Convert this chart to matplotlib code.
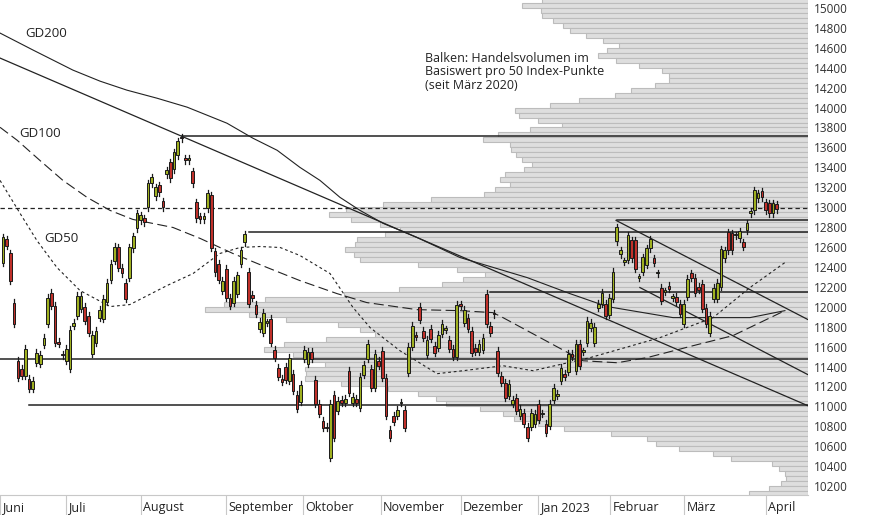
import matplotlib
matplotlib.use("Agg")
import matplotlib.pyplot as plt
import matplotlib.transforms as mtransforms
import numpy as np

plt.rcParams['font.family'] = ['Open Sans', 'DejaVu Sans']

# daily candles (open, close), June 2022 - April 2023
opens = [12444, 12676, 12535, 12042, 11458, 11378, 11308, 11277, 11177, 11438,
         11428, 11619, 11831, 12143, 12012, 11650, 11525, 11458, 11378, 11811,
         11911, 11982, 12002, 11911, 11529, 11639, 11891, 11881, 12052, 12273,
         12464, 12595, 12394, 12243, 12293, 12585, 12786, 12867, 12887, 13000,
         13239, 13108, 13219, 13058, 13330, 13450, 13380, 13521, 13700, 13490,
         13470, 13360, 13048, 12907, 12877, 12988, 13118, 12555, 12434, 12163,
         12384, 12092, 12042, 12132, 12434, 12646, 12354, 12122, 12022, 11780,
         11740, 11841, 11881, 11569, 11388, 11277, 11398, 11257, 11328, 11116,
         11046, 11478, 11428, 11549, 11267, 11026, 10855, 10794, 10483, 11116,
         10955, 11066, 11036, 11358, 11036, 11076, 10986, 11318, 11478, 11378,
         11187, 11458, 11559, 11287, 10764, 10905, 10905, 11036, 10965, 11338,
         11599, 11710, 12002, 11760, 11519, 11780, 11609, 11589, 11730, 11770,
         11670, 11579, 11499, 12022, 11841, 11891, 11760, 11589, 11549, 11569,
         12132, 11811, 11931, 11559, 11308, 11237, 11106, 11026, 11086, 10905,
         10935, 10794, 10794, 10825, 11026, 10925, 10825, 10805, 11066, 11106,
         11257, 11328, 11348, 11529, 11358, 11629, 11549, 11639, 11790, 11639,
         11992, 12032, 12032, 11921, 12082, 12656, 12525, 12454, 12474, 12666,
         12666, 12293, 12354, 12424, 12585, 12485, 12334, 12193, 12153, 12213,
         12092, 12102, 12032, 11831, 12102, 12334, 12293, 12203, 12233, 11992,
         11740, 12082, 12082, 12203, 12485, 12746, 12736, 12716, 12686, 12646,
         12766, 12937, 12967, 13088, 13158, 13048, 13038, 12937, 13028]
closes = [12696, 12615, 12263, 11831, 11287, 11308, 11579, 11177, 11257, 11539,
          11519, 11690, 12092, 12012, 11639, 11630, 11515, 11579, 11770, 11841,
          12112, 12112, 11861, 11740, 11720, 11760, 11971, 12082, 12243, 12434,
          12605, 12394, 12334, 12082, 12595, 12706, 12937, 12917, 12847, 13239,
          13299, 13199, 13148, 13000, 13370, 13289, 13551, 13662, 13690, 13470,
          13490, 13239, 12887, 12877, 12907, 13138, 12595, 12344, 12273, 12263,
          12092, 12012, 12263, 12314, 12565, 12726, 12032, 12092, 11931, 11851,
          11941, 11841, 11639, 11489, 11298, 11247, 11267, 11489, 11157, 10976,
          11217, 11569, 11549, 11478, 11026, 10925, 10784, 10784, 11026, 10684,
          11056, 11036, 11076, 11137, 11096, 11036, 11298, 11418, 11629, 11187,
          11529, 11408, 11287, 10905, 10684, 10845, 10965, 11040, 10784, 11599,
          11811, 11700, 11871, 11690, 11670, 11680, 11539, 11720, 11831, 11770,
          11579, 11499, 12022, 12012, 11971, 11780, 11539, 11549, 11629, 11690,
          11831, 11740, 11925, 11338, 11237, 11086, 11227, 11066, 10955, 10976,
          10825, 10684, 10935, 10925, 10865, 10925, 10734, 11026, 11187, 11126,
          11388, 11298, 11529, 11499, 11629, 11408, 11549, 11861, 11841, 11800,
          12032, 12143, 11911, 12092, 12354, 12796, 12565, 12454, 12716, 12485,
          12384, 12293, 12495, 12585, 12676, 12444, 12334, 12062, 12153, 12183,
          12092, 12052, 11931, 12032, 12283, 12293, 12143, 12173, 11982, 11831,
          11911, 12193, 12243, 12575, 12565, 12565, 12565, 12716, 12756, 12605,
          12837, 12957, 13168, 13138, 13098, 12967, 12937, 13038, 12977]

# month separators (candle index) and labels
month_pos = [-0.8, 16.9, 37.1, 59.9, 80.6, 101.6, 123.1, 143.8, 163.2, 183.1, 205.1]
month_labels = ['Juni', 'Juli', 'August', 'September', 'Oktober', 'November',
                'Dezember', 'Jan 2023', 'Februar', 'März', 'April']

# moving averages: (candle index, value)
gd200_i = [-0.8, 8.1, 18.8, 26.1, 33.3, 41.4, 49.5, 60.2, 67.2, 73.7, 79.8, 85.2,
           90.6, 96.0, 102.2, 111.3, 122.8, 140.9, 152.4, 162.4, 180.1, 200.8, 210.2]
gd200_v = [14748, 14577, 14376, 14265, 14175, 14094, 14004, 13843, 13692, 13571,
           13400, 13269, 13098, 12967, 12837, 12696, 12495, 12293, 12132, 12002,
           11891, 11891, 11961]
gd100_i = [-0.8, 3.8, 9.9, 16.1, 22.6, 28.8, 34.9, 45.7, 53.0, 61.8, 71.0, 79.8,
           89.8, 97.8, 111.3, 122.8, 131.7, 134.4, 155.9, 165.1, 173.1, 185.5,
           196.2, 210.2]
gd100_v = [13802, 13672, 13470, 13269, 13098, 12967, 12877, 12796, 12686, 12535,
           12394, 12263, 12132, 12042, 11971, 11961, 11941, 11891, 11458, 11438,
           11489, 11609, 11710, 11961]
gd50_i = [-0.8, 4.6, 9.1, 14.5, 20.7, 28.8, 34.1, 44.1, 51.1, 58.3, 63.7, 69.1,
          74.5, 79.8, 87.9, 94.1, 98.7, 106.7, 116.7, 123.7, 134.4, 142.5, 157.8,
          176.6, 190.9, 200.8, 210.2]
gd50_v = [13269, 12937, 12666, 12394, 12163, 12002, 12022, 12213, 12334, 12535,
          12595, 12605, 12595, 12515, 12334, 11992, 11790, 11559, 11328, 11358,
          11408, 11358, 11489, 11690, 11891, 12193, 12444]

# horizontal levels: start index, value
level_start = [48, 66, 165, 131, -0.8, 7]
level_value = [13710, 12746, 12867, 12152, 11478, 11016]
dashed_level = 12990

# trend lines: (i0, v0, i1, v1)
trend_lines = [(-0.8, 14497, 216.4, 11006),
               (164.8, 12867, 216.4, 11871),
               (171.2, 12193, 216.4, 11318)]

# volume profile per 50 index points (relative volume)
profile_levels = list(range(15075, 10100, -50))
profile_vol = [266, 286, 267, 266, 255, 245, 238, 222, 205, 189,
               201, 210, 192, 169, 146, 139, 139, 153, 177, 193,
               229, 258, 293, 289, 270, 246, 278, 310, 325, 298,
               297, 292, 286, 276, 284, 303, 308, 298, 313, 324,
               377, 425, 462, 479, 457, 428, 408, 423, 451, 453,
               463, 454, 448, 390, 351, 323, 345, 366, 409, 464,
               543, 584, 603, 559, 522, 470, 448, 433,
               482, 524, 544, 515, 504, 483, 503, 502, 503, 467,
               420, 390, 372, 362, 328, 305, 294, 270, 244, 197,
               161, 152, 129, 95, 77, 36, 29, 23, 22, 27, 39, 59]

W, H = 874, 515
fig = plt.figure(figsize=(W / 100, H / 100), dpi=100)
rect = [0, 20 / H, 808 / W, 1 - 20 / H]
YMIN, YMAX = 10110, 15080

# background: volume profile
axb = fig.add_axes(rect)
axb.barh(profile_levels, profile_vol, height=50, left=0, color='#dedede',
         edgecolor='#bcbcbc', linewidth=0.8)
axb.set_xlim(808, 0)
axb.set_ylim(YMIN, YMAX)
axb.axis('off')

ax = fig.add_axes(rect)
ax.patch.set_alpha(0)
XMIN, XMAX = -0.806, 216.4
ax.set_xlim(XMIN, XMAX)
ax.set_ylim(YMIN, YMAX)

lc = '#222222'
ax.plot(gd200_i, gd200_v, color=lc, lw=0.8)
ax.plot(gd100_i, gd100_v, color=lc, lw=0.8, dashes=(9, 4))
ax.plot(gd50_i, gd50_v, color=lc, lw=0.8, dashes=(2.5, 2.5))
for i0, v0, i1, v1 in trend_lines:
    ax.plot([i0, i1], [v0, v1], color=lc, lw=0.9)
for s, v in zip(level_start, level_value):
    ax.plot([s, XMAX], [v, v], color=lc, lw=1.1)
ax.axhline(dashed_level, color=lc, lw=0.9, dashes=(3.5, 2.5))

# candles
for i, (o, c) in enumerate(zip(opens, closes)):
    hi = max(o, c) + 35
    lo = min(o, c) - 35
    ax.plot([i, i], [lo, hi], color='#1a1a1a', lw=0.9, zorder=3)
    col = '#9fb020' if c >= o else '#c0302a'
    bot = min(o, c)
    h = max(abs(c - o), 12)
    ax.add_patch(plt.Rectangle((i - 0.36, bot), 0.72, h, facecolor=col,
                               edgecolor='#1a1a1a', lw=0.7, zorder=4))

# labels
ax.text(6.0, 14740, 'GD200', fontsize=9.5, color='#222', va='center')
ax.text(4.3, 13740, 'GD100', fontsize=9.5, color='#222', va='center')
ax.text(11.0, 12690, 'GD50', fontsize=9.5, color='#222', va='center')
ax.text(113.5, 14560, 'Balken: Handelsvolumen im\nBasiswert pro 50 Index-Punkte\n(seit März 2020)',
        fontsize=9, color='#222', va='top', linespacing=1.05)

# axes styling
for s in ['top', 'right', 'left']:
    ax.spines[s].set_visible(False)
ax.spines['bottom'].set_color('#c8c8c8')
ax.set_xticks(month_pos)
ax.set_xticklabels([])
ax.tick_params(axis='x', length=14.5, color='#c8c8c8', width=0.8)
trans = mtransforms.blended_transform_factory(ax.transData, ax.transAxes)
for p, lab in zip(month_pos, month_labels):
    ax.text(p + 0.6, -0.012, lab, transform=trans, fontsize=9, color='#222',
            ha='left', va='top')
ax.yaxis.tick_right()
ax.set_yticks(range(10200, 15001, 200))
ax.tick_params(axis='y', length=0, pad=4, labelsize=8.5, labelcolor='#333')

fig.savefig('out.png', dpi=100)
